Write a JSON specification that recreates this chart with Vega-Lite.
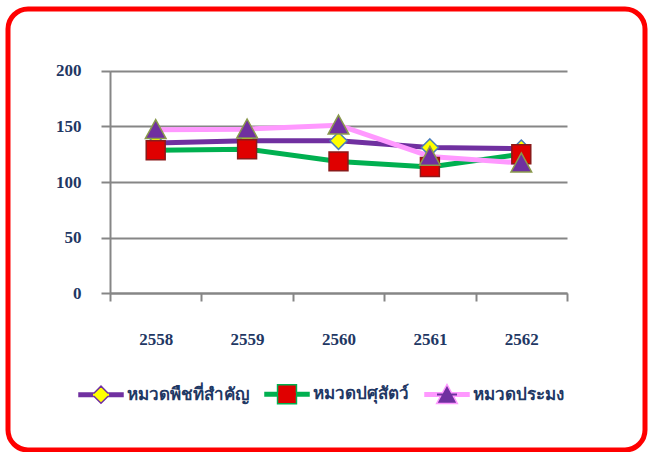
{
  "$schema": "https://vega.github.io/schema/vega-lite/v6.json",
  "width": 637,
  "height": 441,
  "autosize": {"type": "none"},
  "padding": {"left": 8, "top": 9, "right": 4, "bottom": 2},
  "background": "white",
  "config": {
    "view": {"stroke": "#FF0000", "strokeWidth": 5, "cornerRadius": 20, "fill": "white"},
    "axis": {
      "domainColor": "#868686",
      "domainWidth": 2,
      "tickColor": "#868686",
      "tickWidth": 2,
      "gridColor": "#868686",
      "gridWidth": 2,
      "labelFont": "Liberation Serif",
      "labelFontSize": 17,
      "labelFontWeight": "bold",
      "labelColor": "#1F3864",
      "title": null
    }
  },
  "data": {
    "values": [
      {"year": "2558", "series": "หมวดพืชที่สำคัญ", "value": 135},
      {"year": "2559", "series": "หมวดพืชที่สำคัญ", "value": 137},
      {"year": "2560", "series": "หมวดพืชที่สำคัญ", "value": 137},
      {"year": "2561", "series": "หมวดพืชที่สำคัญ", "value": 131},
      {"year": "2562", "series": "หมวดพืชที่สำคัญ", "value": 130},
      {"year": "2558", "series": "หมวดปศุสัตว์", "value": 128.5},
      {"year": "2559", "series": "หมวดปศุสัตว์", "value": 129.5},
      {"year": "2560", "series": "หมวดปศุสัตว์", "value": 118.5},
      {"year": "2561", "series": "หมวดปศุสัตว์", "value": 113.5},
      {"year": "2562", "series": "หมวดปศุสัตว์", "value": 125},
      {"year": "2558", "series": "หมวดประมง", "value": 147},
      {"year": "2559", "series": "หมวดประมง", "value": 147.5},
      {"year": "2560", "series": "หมวดประมง", "value": 151},
      {"year": "2561", "series": "หมวดประมง", "value": 123},
      {"year": "2562", "series": "หมวดประมง", "value": 117}
    ]
  },
  "encoding": {
    "x": {
      "field": "year",
      "type": "ordinal",
      "bandPosition": 0.5,
      "scale": {"type": "band", "range": [102, 559], "paddingInner": 0, "paddingOuter": 0},
      "axis": {
        "orient": "bottom",
        "offset": -157,
        "tickBand": "extent",
        "tickSize": 8,
        "labelAngle": 0,
        "labelPadding": 30,
        "grid": false
      }
    },
    "y": {
      "field": "value",
      "type": "quantitative",
      "scale": {"domain": [0, 200], "range": [284.3, 61.7], "nice": false, "zero": true},
      "axis": {
        "orient": "left",
        "offset": -102,
        "values": [0, 50, 100, 150, 200],
        "grid": true,
        "tickSize": 9,
        "labelPadding": 20
      }
    }
  },
  "layer": [
    {
      "mark": {"type": "line", "strokeWidth": 5, "strokeJoin": "round"},
      "encoding": {
        "color": {
          "field": "series",
          "type": "nominal",
          "scale": {
            "domain": ["หมวดพืชที่สำคัญ", "หมวดปศุสัตว์", "หมวดประมง"],
            "range": ["#7030A0", "#00B050", "#FF99FF"]
          },
          "legend": {
            "orient": "none",
            "legendX": 70,
            "legendY": 362,
            "direction": "horizontal",
            "title": null,
            "padding": 0,
            "symbolType": "square",
            "symbolSize": 1936,
            "symbolStrokeWidth": 1.5,
            "labelFont": "Liberation Serif",
            "labelFontSize": 17,
            "labelFontWeight": "bold",
            "labelColor": "#1F3864",
            "labelOffset": 3,
            "columnPadding": 13,
            "encode": {
              "symbols": {
                "update": {
                  "shape": {"signal": "datum.value === 'หมวดพืชที่สำคัญ' ? 'M-1,-0.08H-0.31L0,-0.39L0.31,-0.08H1V0.08H0.31L0,0.39L-0.31,0.08H-1Z' : datum.value === 'หมวดปศุสัตว์' ? 'M-1,-0.08H-0.43V-0.43H0.43V-0.08H1V0.08H0.43V0.43H-0.43V0.08H-1Z' : 'M-1,-0.08H-0.208L0,-0.46L0.208,-0.08H1V0.08H0.295L0.47,0.4H-0.47L-0.295,0.08H-1Z'"},
                  "fill": {"signal": "datum.value === 'หมวดพืชที่สำคัญ' ? {gradient: 'linear', x1: 0, y1: 0, x2: 1, y2: 0, stops: [{offset: 0, color: '#7030A0'}, {offset: 0.325, color: '#7030A0'}, {offset: 0.325, color: '#FFFF00'}, {offset: 0.675, color: '#FFFF00'}, {offset: 0.675, color: '#7030A0'}, {offset: 1, color: '#7030A0'}]} : datum.value === 'หมวดปศุสัตว์' ? {gradient: 'linear', x1: 0, y1: 0, x2: 1, y2: 0, stops: [{offset: 0, color: '#00B050'}, {offset: 0.285, color: '#00B050'}, {offset: 0.285, color: '#E00000'}, {offset: 0.715, color: '#E00000'}, {offset: 0.715, color: '#00B050'}, {offset: 1, color: '#00B050'}]} : {gradient: 'linear', x1: 0, y1: 0, x2: 1, y2: 0, stops: [{offset: 0, color: '#FF99FF'}, {offset: 0.265, color: '#FF99FF'}, {offset: 0.265, color: '#7030A0'}, {offset: 0.735, color: '#7030A0'}, {offset: 0.735, color: '#FF99FF'}, {offset: 1, color: '#FF99FF'}]}"},
                  "stroke": {"signal": "datum.value === 'หมวดพืชที่สำคัญ' ? {gradient: 'linear', x1: 0, y1: 0, x2: 1, y2: 0, stops: [{offset: 0, color: '#7030A0'}, {offset: 0.325, color: '#7030A0'}, {offset: 0.325, color: '#4A7EBB'}, {offset: 0.675, color: '#4A7EBB'}, {offset: 0.675, color: '#7030A0'}, {offset: 1, color: '#7030A0'}]} : datum.value === 'หมวดปศุสัตว์' ? {gradient: 'linear', x1: 0, y1: 0, x2: 1, y2: 0, stops: [{offset: 0, color: '#00B050'}, {offset: 0.285, color: '#00B050'}, {offset: 0.285, color: '#8B1A1A'}, {offset: 0.715, color: '#8B1A1A'}, {offset: 0.715, color: '#00B050'}, {offset: 1, color: '#00B050'}]} : {gradient: 'linear', x1: 0, y1: 0, x2: 1, y2: 0, stops: [{offset: 0, color: '#FF99FF'}, {offset: 0.265, color: '#FF99FF'}, {offset: 0.265, color: '#8A9A4C'}, {offset: 0.735, color: '#8A9A4C'}, {offset: 0.735, color: '#FF99FF'}, {offset: 1, color: '#FF99FF'}]}"},
                  "strokeWidth": {"value": 1.5},
                  "opacity": {"value": 1},
                  "fillOpacity": {"value": 1},
                  "strokeOpacity": {"value": 1}
                }
              }
            }
          }
        }
      }
    },
    {
      "mark": {"type": "point", "filled": true, "size": 1936, "strokeWidth": 1.5, "opacity": 1},
      "encoding": {
        "shape": {
          "field": "series",
          "type": "nominal",
          "sort": "descending",
          "scale": {
            "range": [
              "M0,-0.39L0.39,0L0,0.39L-0.39,0Z",
              "M-0.43,-0.43H0.43V0.43H-0.43Z",
              "M0,-0.46L0.47,0.4H-0.47Z"
            ]
          },
          "legend": null
        },
        "fill": {
          "field": "series",
          "type": "nominal",
          "sort": "descending",
          "scale": {"range": ["#FFFF00", "#E00000", "#7030A0"]},
          "legend": null
        },
        "stroke": {
          "field": "series",
          "type": "nominal",
          "sort": "descending",
          "scale": {"range": ["#4A7EBB", "#8B1A1A", "#8A9A4C"]},
          "legend": null
        }
      }
    }
  ]
}
